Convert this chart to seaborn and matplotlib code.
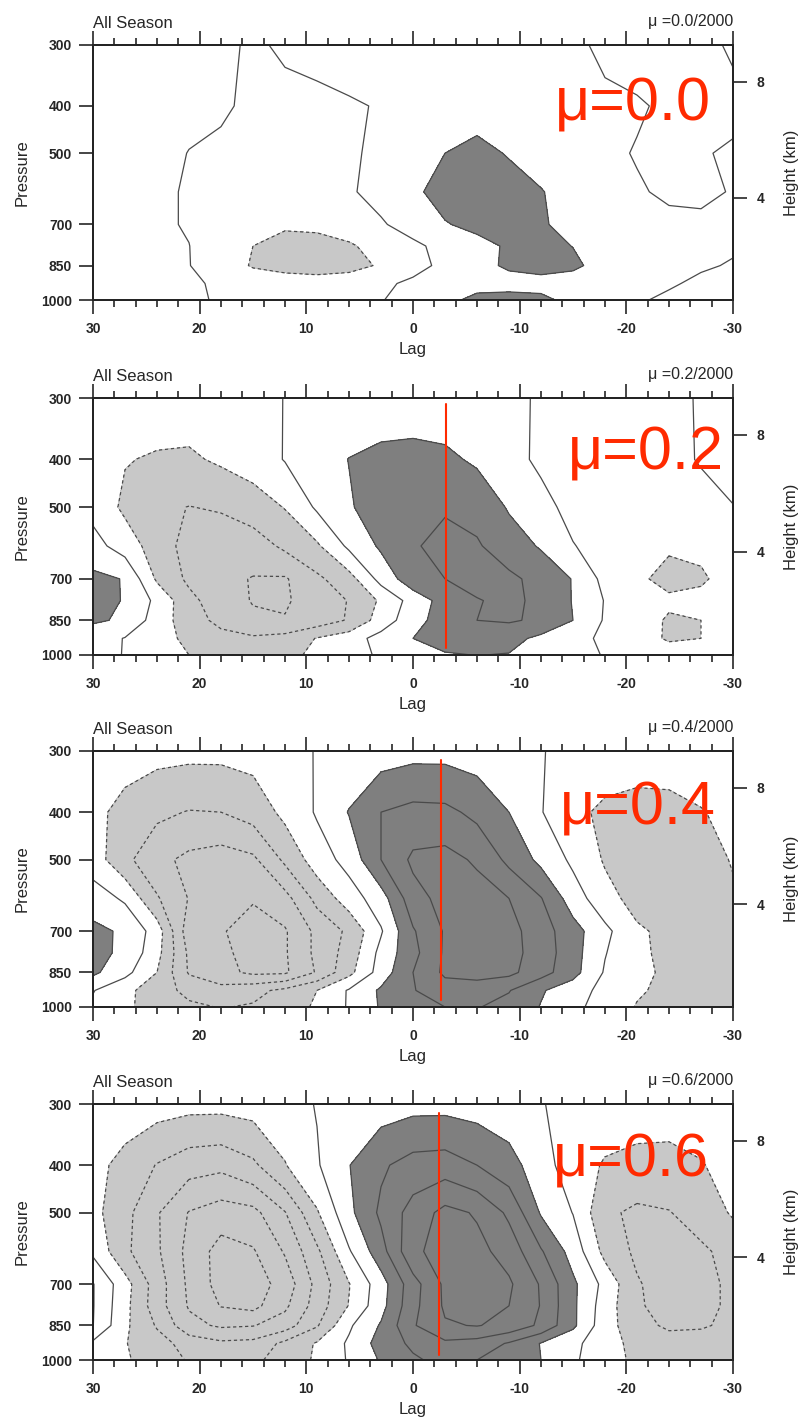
import numpy as np
import matplotlib
matplotlib.use("Agg")
import matplotlib.pyplot as plt
from matplotlib.ticker import NullLocator
import seaborn as sns

# ---------------- data ----------------
LAGS = [30, 27, 24, 21, 18, 15, 12, 9, 6, 3, 0, -3, -6, -9, -12, -15, -18, -21, -24, -27, -30]
LEVELS = [300, 400, 500, 600, 700, 775, 850, 925, 1000]

MU00 = [
    [0.4, 0.35, 0.3, 0.2, 0.15, -0.1, 0.1, 0.25, 0.35, 0.4, 0.45, 0.45, 0.4, 0.3, 0.2, 0.08, -0.08, -0.2, -0.2, -0.1, 0.05],
    [0.45, 0.4, 0.3, 0.2, 0.07, -0.1, -0.2, -0.2, -0.08, 0.05, 0.2, 0.45, 0.7, 0.7, 0.45, 0.2, 0.08, 0.05, -0.08, -0.12, -0.1],
    [0.4, 0.35, 0.25, -0.02, -0.1, -0.25, -0.35, -0.35, -0.1, 0.15, 0.5, 1.0, 1.2, 0.95, 0.6, 0.3, 0.1, -0.03, -0.1, -0.03, 0.05],
    [0.35, 0.3, 0.1, -0.05, -0.15, -0.3, -0.45, -0.45, -0.1, 0.3, 0.85, 1.3, 1.4, 1.3, 1.05, 0.6, 0.2, 0.05, -0.08, -0.1, 0.03],
    [0.35, 0.3, 0.1, -0.05, -0.3, -0.7, -0.9, -0.85, -0.6, -0.1, 0.4, 0.95, 1.2, 1.35, 1.1, 0.7, 0.35, 0.15, 0.12, 0.1, 0.08],
    [0.3, 0.28, 0.12, 0.01, -0.4, -1.0, -1.25, -1.25, -1.1, -0.7, -0.2, 0.3, 0.75, 1.1, 1.3, 0.98, 0.55, 0.2, 0.1, 0.06, 0.03],
    [0.3, 0.25, 0.1, 0.02, -0.4, -1.1, -1.2, -1.2, -1.15, -0.95, -0.35, 0.25, 0.8, 1.1, 1.3, 1.2, 0.6, 0.15, 0.05, 0.03, -0.02],
    [0.25, 0.2, 0.12, 0.05, -0.05, -0.3, -0.7, -0.8, -0.75, -0.2, 0.2, 0.5, 0.8, 0.75, 0.7, 0.5, 0.3, 0.1, 0.03, -0.05, -0.1],
    [0.2, 0.15, 0.1, 0.05, -0.03, -0.2, -0.4, -0.45, -0.35, -0.05, 0.4, 0.85, 1.15, 1.25, 1.2, 0.75, 0.3, 0.03, -0.05, -0.1, -0.12],
]
MU02 = [
    [-0.3, -0.4, -0.5, -0.5, -0.5, -0.4, 0.03, 0.3, 0.4, 0.45, 0.5, 0.45, 0.35, 0.2, -0.1, -0.3, -0.35, -0.3, -0.15, 0.05, 0.2],
    [-0.5, -0.95, -1.1, -1.15, -0.85, -0.55, 0.05, 0.55, 1.02, 1.25, 1.3, 1.2, 0.85, 0.35, -0.2, -0.45, -0.5, -0.4, -0.2, 0.05, 0.25],
    [-0.3, -1.2, -1.8, -2.02, -1.9, -1.5, -0.95, 0.15, 0.9, 1.5, 1.85, 1.95, 1.7, 0.9, 0.35, -0.35, -0.55, -0.55, -0.45, -0.25, -0.02],
    [0.35, -0.45, -1.5, -2.35, -2.6, -2.5, -1.8, -1.15, 0.2, 1.15, 1.95, 2.15, 2.1, 1.5, 0.9, 0.05, -0.45, -0.7, -0.9, -0.85, -0.6],
    [1.25, 0.95, -1.15, -2.2, -2.75, -3.05, -3.1, -2.2, -1.4, 0.35, 1.6, 2.0, 2.3, 2.2, 1.7, 0.95, -0.3, -0.85, -1.25, -1.1, -0.7],
    [1.3, 0.95, -0.24, -1.7, -2.6, -3.05, -3.1, -2.6, -1.95, -0.85, 0.4, 1.4, 1.95, 2.2, 1.8, 0.95, -0.05, -0.6, -0.85, -0.8, -0.55],
    [1.1, 0.9, -0.5, -1.5, -2.3, -2.85, -2.95, -2.55, -1.9, -0.55, 0.6, 1.5, 2.0, 2.1, 1.85, 1.0, -0.1, -0.6, -1.1, -1.0, -0.5],
    [0.55, -0.05, -0.65, -1.2, -1.65, -1.85, -1.65, -0.95, -0.45, 0.35, 1.0, 1.45, 1.6, 1.35, 0.75, 0.35, -0.2, -0.65, -1.1, -1.0, -0.55],
    [0.4, -0.05, -0.55, -1.0, -1.35, -1.45, -1.25, -0.8, -0.4, 0.15, 0.6, 0.9, 1.02, 0.95, 0.65, 0.3, -0.05, -0.4, -0.6, -0.55, -0.35],
]
MU04 = [
    [-0.3, -0.55, -0.7, -0.75, -0.75, -0.65, -0.35, 0.05, 0.3, 0.55, 0.7, 0.7, 0.55, 0.3, 0.05, -0.3, -0.45, -0.55, -0.55, -0.5, -0.4],
    [-0.7, -1.35, -1.8, -2.05, -2.0, -1.6, -0.75, 0.1, 1.05, 2.0, 2.3, 2.25, 1.75, 1.0, 0.05, -0.75, -1.2, -1.35, -1.3, -1.05, -0.75],
    [-0.5, -1.75, -2.7, -3.25, -3.5, -3.2, -1.8, -0.5, 0.35, 2.0, 3.2, 3.35, 2.85, 1.75, 0.75, -0.2, -1.1, -1.45, -1.5, -1.3, -0.95],
    [0.5, -0.15, -1.9, -3.05, -3.75, -3.95, -3.35, -1.7, -0.5, 0.55, 2.6, 3.35, 3.45, 3.0, 2.05, 0.5, -0.65, -1.35, -1.4, -1.3, -1.1],
    [1.25, 0.85, -0.45, -3.6, -3.95, -4.25, -4.1, -2.75, -1.8, -0.1, 1.9, 3.1, 3.45, 3.35, 2.45, 1.4, 0.25, -0.85, -1.25, -1.25, -1.2],
    [1.3, 0.8, -0.65, -3.2, -3.85, -4.25, -4.1, -2.75, -1.6, 0.3, 1.7, 3.15, 3.45, 3.35, 2.55, 1.4, 0.05, -0.8, -1.25, -1.25, -1.2],
    [1.2, 0.3, -1.0, -3.1, -3.7, -4.2, -4.15, -2.9, -1.3, 0.45, 2.0, 3.2, 3.4, 3.25, 2.4, 1.35, -0.1, -0.8, -1.15, -1.2, -1.15],
    [0.05, -0.75, -1.5, -2.3, -2.65, -2.3, -1.75, -1.0, 0.1, 1.15, 1.95, 2.5, 2.45, 2.05, 1.1, 0.45, -0.3, -0.9, -1.2, -1.2, -1.15],
    [-0.2, -0.85, -1.35, -1.8, -2.05, -1.9, -1.5, -0.85, 0.1, 1.1, 1.65, 2.0, 2.05, 1.7, 0.95, 0.3, -0.5, -1.05, -1.2, -1.2, -1.15],
]
MU06 = [
    [-0.3, -0.5, -0.6, -0.7, -0.7, -0.6, -0.4, 0.05, 0.35, 0.55, 0.7, 0.7, 0.6, 0.4, 0.05, -0.3, -0.45, -0.6, -0.65, -0.6, -0.5],
    [-0.7, -1.3, -2.05, -2.6, -2.75, -2.2, -1.05, -0.1, 0.97, 1.85, 2.4, 2.5, 2.0, 1.4, 0.4, -0.5, -1.1, -1.25, -1.25, -1.05, -0.7],
    [-0.7, -1.7, -2.9, -4.05, -4.5, -4.3, -3.05, -1.1, 0.75, 2.2, 3.4, 4.3, 3.9, 2.8, 0.9, -0.03, -1.8, -2.2, -2.05, -1.5, -0.9],
    [-0.2, -1.8, -2.85, -4.3, -5.4, -5.1, -3.9, -2.2, -0.1, 1.6, 3.8, 4.4, 4.3, 3.6, 2.1, 0.6, -1.3, -2.2, -2.5, -2.2, -1.6],
    [1.05, -0.6, -2.5, -4.2, -5.4, -5.5, -4.6, -2.7, -1.05, 0.55, 2.6, 4.2, 4.4, 4.15, 2.9, 1.2, -0.3, -1.9, -2.5, -2.3, -1.8],
    [1.05, -0.7, -2.55, -4.1, -5.05, -5.3, -4.2, -2.55, -0.95, 0.65, 2.7, 4.15, 4.35, 4.0, 2.95, 1.2, -0.5, -1.85, -2.45, -2.3, -1.8],
    [1.02, -0.8, -2.1, -3.7, -4.15, -4.05, -3.5, -2.1, -0.15, 1.1, 2.9, 3.9, 4.05, 3.7, 2.8, 1.2, -0.6, -1.6, -2.2, -2.15, -1.7],
    [-0.2, -0.95, -1.6, -2.4, -2.8, -2.7, -1.75, -0.9, 0.15, 1.4, 2.2, 2.8, 2.6, 1.9, 0.95, 0.25, -0.6, -1.3, -1.5, -1.4, -1.05],
    [-0.4, -0.9, -1.4, -2.1, -2.35, -2.2, -1.6, -0.85, 0.1, 1.1, 1.85, 2.3, 2.0, 1.5, 1.0, 0.15, -0.6, -1.2, -1.4, -1.35, -1.05],
]

PANELS = [MU00, MU02, MU04, MU06]
MU_LABELS = ["0.0", "0.2", "0.4", "0.6"]
RED_LAG = [None, -3.1, -2.6, -2.4]
RED_TOP = [None, 308, 313, 313]
RED_BOT = [None, 968, 968, 976]

X_TICKS = [30, 20, 10, 0, -10, -20, -30]
P_TICKS = [300, 400, 500, 700, 850, 1000]
H_TICKS_P = [356.5, 616.4]
H_TICK_LABELS = ["8", "4"]

# ---------------- style ----------------
sns.set_theme(style="ticks")
plt.rcParams["font.family"] = ["Liberation Sans", "DejaVu Sans"]
plt.rcParams["axes.unicode_minus"] = False
plt.rcParams["lines.dashed_pattern"] = [2.6, 2.2]

LIGHT = "#c8c8c8"
DARK = "#7f7f7f"
LINE = "#4a4a4a"
RED = "#ff2a00"

fig = plt.figure(figsize=(8.03, 14.22), dpi=100)
W, H = 803.0, 1422.0
tops = [45, 398, 751, 1104]
bots = [300, 655, 1007, 1360]
left_px, right_px = 93, 733
mu_pos = [(0.722, 0.705), (0.742, 0.722), (0.730, 0.712), (0.719, 0.715)]

for i, data in enumerate(PANELS):
    ax = fig.add_axes([left_px / W, 1 - bots[i] / H, (right_px - left_px) / W, (bots[i] - tops[i]) / H])
    Z = np.array(data)
    ax.contourf(LAGS, LEVELS, Z, levels=[-99, -1], colors=[LIGHT])
    ax.contourf(LAGS, LEVELS, Z, levels=[1, 99], colors=[DARK])
    ax.contour(LAGS, LEVELS, Z, levels=[-6, -5, -4, -3, -2, -1], colors=LINE,
               linewidths=0.9, linestyles="dashed")
    ax.contour(LAGS, LEVELS, Z, levels=[0, 1, 2, 3, 4, 5, 6], colors=LINE,
               linewidths=0.9, linestyles="solid")

    if RED_LAG[i] is not None:
        sns.lineplot(x=[RED_LAG[i], RED_LAG[i]], y=[RED_TOP[i], RED_BOT[i]], ax=ax,
                     color=RED, linewidth=1.5, estimator=None, sort=False, legend=False)

    ax.set_yscale("log")
    ax.set_ylim(1000, 300)
    ax.set_xlim(30, -30)
    ax.set_yticks(P_TICKS)
    ax.set_yticklabels([str(p) for p in P_TICKS])
    ax.yaxis.set_minor_locator(NullLocator())
    ax.set_xticks(X_TICKS)
    ax.set_xticklabels([str(t) for t in X_TICKS])
    ax.set_xticks(np.arange(-30, 31, 2), minor=True)
    ax.tick_params(axis="x", which="major", length=10, width=1.2, direction="out",
                   top=True, bottom=True, pad=6, labelsize=10)
    ax.tick_params(axis="x", which="minor", length=5, width=1.2, direction="out",
                   top=True, bottom=True)
    ax.tick_params(axis="y", which="major", length=10, width=1.2, direction="out",
                   left=True, right=False, pad=5, labelsize=10)
    for lab in ax.get_xticklabels() + ax.get_yticklabels():
        lab.set_fontweight("bold")
    for sp in ax.spines.values():
        sp.set_visible(True)
        sp.set_linewidth(1.3)
        sp.set_color("black")
    ax.set_xlabel("Lag", fontsize=12, labelpad=4)
    ax.set_ylabel("Pressure", fontsize=12, labelpad=8)

    ax2 = ax.twinx()
    ax2.set_yscale("log")
    ax2.set_ylim(1000, 300)
    ax2.set_yticks(H_TICKS_P)
    ax2.set_yticklabels(H_TICK_LABELS)
    ax2.yaxis.set_minor_locator(NullLocator())
    ax2.tick_params(axis="y", which="major", length=10, width=1.2, direction="out",
                    right=True, pad=7, labelsize=10)
    for lab in ax2.get_yticklabels():
        lab.set_fontweight("bold")
    for sp in ax2.spines.values():
        sp.set_linewidth(1.3)
    ax2.set_ylabel("Height (km)", fontsize=12, labelpad=14)

    ax.text(0.0, 1.065, "All Season", transform=ax.transAxes, ha="left",
            va="baseline", fontsize=12)
    ax.text(1.0, 1.075, "\u03bc =" + MU_LABELS[i] + "/2000", transform=ax.transAxes,
            ha="right", va="baseline", fontsize=11.5)
    ax.text(mu_pos[i][0], mu_pos[i][1], "\u03bc=" + MU_LABELS[i], transform=ax.transAxes,
            ha="left", va="baseline", fontsize=44, color=RED, zorder=10)

fig.savefig("out.png", dpi=100)
